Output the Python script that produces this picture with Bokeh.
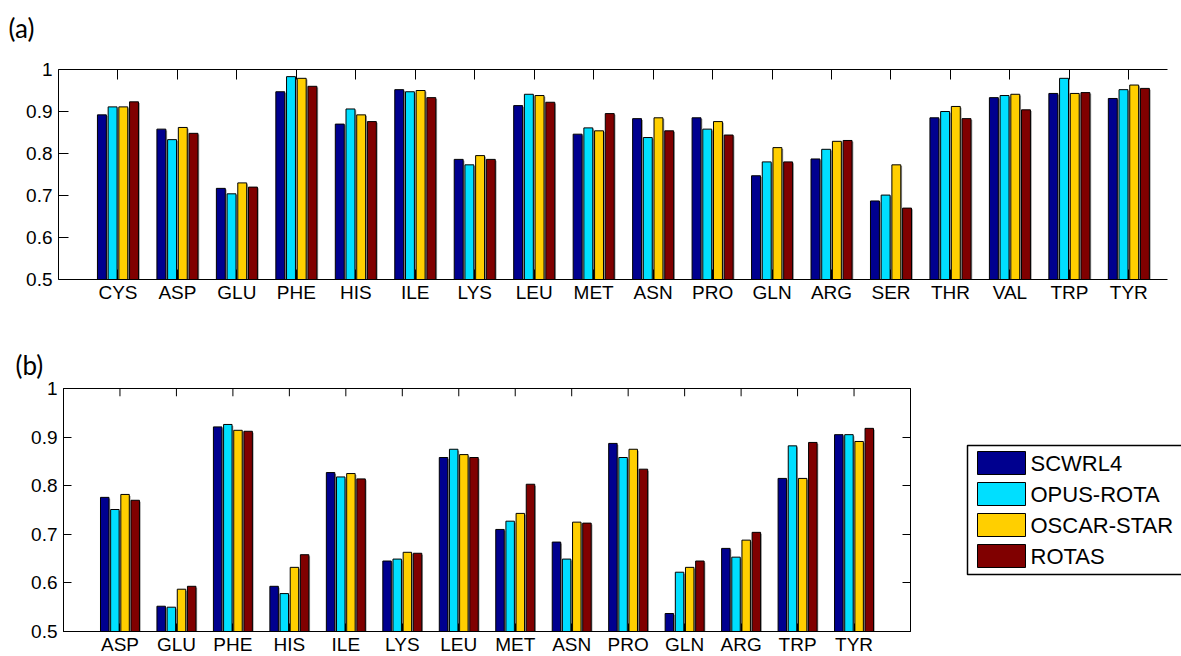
from bokeh.plotting import figure
from bokeh.models import Range1d, FixedTicker, LinearAxis, Title
from bokeh.core.properties import value
from bokeh.layouts import column, row
from bokeh.embed import file_html
from bokeh.resources import INLINE

# ---------------- data ----------------
methods = ["SCWRL4", "OPUS-ROTA", "OSCAR-STAR", "ROTAS"]
colors = ["#00008F", "#00DFFF", "#FFCF00", "#800000"]

cats_a = ["CYS", "ASP", "GLU", "PHE", "HIS", "ILE", "LYS", "LEU", "MET",
          "ASN", "PRO", "GLN", "ARG", "SER", "THR", "VAL", "TRP", "TYR"]
scwrl4_a = [0.892, 0.858, 0.717, 0.947, 0.870, 0.952, 0.786, 0.914, 0.846,
            0.883, 0.885, 0.747, 0.787, 0.687, 0.885, 0.933, 0.943, 0.931]
opus_a = [0.911, 0.833, 0.704, 0.983, 0.906, 0.947, 0.773, 0.941, 0.861,
          0.838, 0.858, 0.780, 0.810, 0.701, 0.900, 0.938, 0.979, 0.952]
oscar_a = [0.911, 0.862, 0.730, 0.979, 0.892, 0.950, 0.795, 0.938, 0.854,
           0.885, 0.876, 0.814, 0.829, 0.773, 0.912, 0.941, 0.943, 0.963]
rotas_a = [0.923, 0.848, 0.720, 0.960, 0.876, 0.933, 0.786, 0.922, 0.895,
           0.854, 0.844, 0.780, 0.831, 0.670, 0.883, 0.904, 0.945, 0.955]

cats_b = ["ASP", "GLU", "PHE", "HIS", "ILE", "LYS", "LEU", "MET",
          "ASN", "PRO", "GLN", "ARG", "TRP", "TYR"]
scwrl4_b = [0.776, 0.552, 0.921, 0.593, 0.827, 0.645, 0.858, 0.710,
            0.684, 0.887, 0.537, 0.671, 0.815, 0.905]
opus_b = [0.751, 0.550, 0.926, 0.578, 0.818, 0.649, 0.875, 0.727,
          0.649, 0.858, 0.622, 0.653, 0.882, 0.905]
oscar_b = [0.782, 0.587, 0.914, 0.632, 0.825, 0.663, 0.864, 0.743,
           0.725, 0.875, 0.632, 0.688, 0.815, 0.891]
rotas_b = [0.770, 0.593, 0.912, 0.658, 0.814, 0.661, 0.858, 0.803,
           0.723, 0.834, 0.645, 0.704, 0.889, 0.918]

y_ticks = [0.5, 0.6, 0.7, 0.8, 0.9, 1.0]
y_tick_labels = ["0.5", "0.6", "0.7", "0.8", "0.9", "1"]

FONT = "Liberation Sans"
TICK_SIZE = "19px"
BAR_W = 0.15
OFFSETS = [-0.27, -0.09, 0.09, 0.27]


def bare_fig(w, h, **kw):
    p = figure(frame_width=w, frame_height=h, title=None,
               output_backend="svg", toolbar_location=None,
               x_axis_location=None, y_axis_location=None,
               background_fill_color="white", border_fill_color="white", **kw)
    p.xgrid.visible = False
    p.ygrid.visible = False
    return p


def style_axis(ax, ticks, labels, tick_in, show_labels=True):
    ax.ticker = FixedTicker(ticks=ticks)
    if show_labels:
        ax.major_label_overrides = {t: l for t, l in zip(ticks, labels)}
    else:
        ax.major_label_overrides = {t: "" for t in ticks}
        ax.major_label_standoff = 0
    ax.major_tick_in = tick_in
    ax.major_tick_out = 0
    ax.minor_tick_in = 0
    ax.minor_tick_out = 0
    ax.axis_line_color = "black"
    ax.axis_line_width = 1
    ax.major_tick_line_color = "black"
    ax.major_label_text_font = FONT
    ax.major_label_text_font_size = TICK_SIZE
    ax.major_label_text_color = "black"


def make_panel(cats, series, x_end, frame_w, frame_h, borders, tick_in, boxed,
               top_tick_len=0.0):
    top, right, bottom, left = borders
    p = bare_fig(frame_w, frame_h,
                 x_range=Range1d(0, x_end), y_range=Range1d(0.5, 1.0),
                 min_border_top=top, min_border_right=right,
                 min_border_bottom=bottom, min_border_left=left)
    p.outline_line_color = "black" if boxed else None
    p.outline_line_width = 1

    xs = list(range(1, len(cats) + 1))
    for vals, col, off in zip(series, colors, OFFSETS):
        bx = [x + off for x in xs]
        # faint shading on the right edge of each bar
        p.vbar(x=[b + 0.022 for b in bx], top=[v - 0.003 for v in vals],
               bottom=0.5, width=BAR_W, fill_color="#9a9a9a", line_color=None)
        p.vbar(x=bx, top=vals, bottom=0.5, width=BAR_W,
               fill_color=col, line_color="black", line_width=1)

    bax = LinearAxis()
    style_axis(bax, xs, cats, tick_in)
    bax.major_label_standoff = 2
    p.add_layout(bax, "below")

    if boxed:
        # frame outline gives the top edge; inward top ticks drawn inside the frame
        p.segment(x0=xs, x1=xs, y0=[1.0] * len(xs), y1=[1.0 - top_tick_len] * len(xs),
                  line_color="black", line_width=1)
        rax = LinearAxis()
        style_axis(rax, y_ticks, y_tick_labels, tick_in, show_labels=False)
        p.add_layout(rax, "right")
    else:
        tax = LinearAxis()
        style_axis(tax, xs, cats, tick_in, show_labels=False)
        p.add_layout(tax, "above")

    lax = LinearAxis()
    style_axis(lax, y_ticks, y_tick_labels, tick_in)
    lax.major_label_standoff = 6
    p.add_layout(lax, "left")
    return p


def make_tag(text, w, h, x, y):
    t = bare_fig(w, h, x_range=Range1d(0, w), y_range=Range1d(h, 0), min_border=0)
    t.outline_line_color = None
    t.text(x=[x], y=[y], text=[text], text_font=value("Lato"), text_font_size="26px",
           text_baseline="middle", text_align="left", text_color="black")
    return t


tag_a = make_tag("(a)", 1181, 48, 8, 27)

pa = make_panel(cats_a, [scwrl4_a, opus_a, oscar_a, rotas_a],
                x_end=18.65, frame_w=1109, frame_h=210,
                borders=(21, 14, 44, 58), tick_in=10, boxed=False)

pb = make_panel(cats_b, [scwrl4_b, opus_b, oscar_b, rotas_b],
                x_end=15, frame_w=847, frame_h=243,
                borders=(65, 10, 25, 63), tick_in=8, boxed=True,
                top_tick_len=0.016)
pb.add_layout(Title(text="(b)", align="left", offset=-48, standoff=16,
                    text_font="Lato", text_font_size="26px",
                    text_font_style="normal", text_color="black"), "above")

# ---------------- legend panel (pixel-like coordinates, y downward from frame top) ----------------
PL_W, PL_H = 261, 243
pl = bare_fig(PL_W, PL_H, x_range=Range1d(0, PL_W), y_range=Range1d(PL_H, 0),
              min_border_top=65, min_border_bottom=25, min_border_left=0, min_border_right=0)
pl.outline_line_color = None

box_left, box_top, box_bottom = 47, 57, 186
row_top0, row_pitch, sw_h = 63, 31, 23
sw_left, sw_w = 57, 48
# legend frame (its right side runs past the page edge, as in the original)
pl.quad(left=box_left, right=PL_W + 20, top=box_top, bottom=box_bottom,
        fill_color="white", line_color="black", line_width=1.5)
row_tops = [row_top0 + i * row_pitch for i in range(len(methods))]
pl.quad(left=sw_left, right=sw_left + sw_w,
        top=row_tops, bottom=[t + sw_h for t in row_tops],
        fill_color=colors, line_color="black", line_width=1)
pl.text(x=sw_left + sw_w + 5, y=[t + sw_h / 2 for t in row_tops], text=methods,
        text_font=value(FONT), text_font_size="22px", text_baseline="middle",
        text_align="left", text_color="black")

layout = column(row(tag_a), pa, row(pb, pl, spacing=0), spacing=0)
open("out.html", "w").write(file_html(layout, INLINE))
